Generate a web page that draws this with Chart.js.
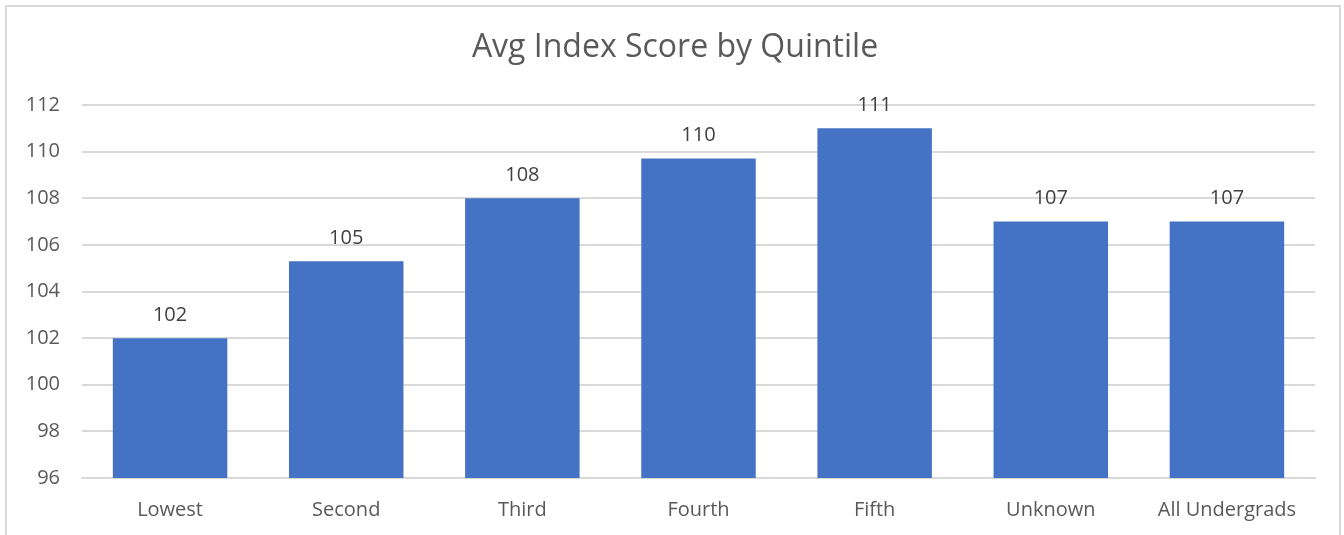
<!DOCTYPE html>
<html>
<head>
<meta charset="utf-8">
<script src="https://cdn.jsdelivr.net/npm/chart.js@4"></script>
<style>
  html, body { margin: 0; padding: 0; background: #fff; overflow: hidden; }
  #wrap { position: relative; width: 1344px; height: 535px; }
  #frame {
    position: absolute; left: 5px; top: 5px; width: 1336px; height: 560px;
    border: 2px solid #d9d9d9; box-sizing: border-box;
  }
  canvas { position: absolute; left: 0; top: 0; }
</style>
</head>
<body>
<div id="wrap">
  <div id="frame"></div>
  <canvas id="chart" width="1344" height="535"></canvas>
</div>
<script>
  // Data
  const chartTitle = 'Avg Index Score by Quintile';
  const categories = ['Lowest', 'Second', 'Third', 'Fourth', 'Fifth', 'Unknown', 'All Undergrads'];
  const scores = [102, 105.3, 108, 109.7, 111, 107, 107];
  const yTicks = [96, 98, 100, 102, 104, 106, 108, 110, 112];

  const FONT = "'Open Sans', 'Liberation Sans', sans-serif";
  const TEXT = '#595959';
  const GRID = '#d9d9d9';

  // Title centred on the whole frame, not the plot
  const frameTitle = {
    id: 'frameTitle',
    afterDraw(chart) {
      const ctx = chart.ctx;
      ctx.save();
      ctx.font = '32px ' + FONT;
      ctx.fillStyle = TEXT;
      ctx.textAlign = 'center';
      ctx.textBaseline = 'middle';
      ctx.fillText(chartTitle, 675, 48);
      ctx.restore();
    }
  };

  // Value labels above each bar
  const barLabels = {
    id: 'barLabels',
    afterDatasetsDraw(chart) {
      const ctx = chart.ctx;
      const meta = chart.getDatasetMeta(0);
      ctx.save();
      ctx.font = '20px ' + FONT;
      ctx.fillStyle = '#404040';
      ctx.textAlign = 'center';
      ctx.textBaseline = 'bottom';
      meta.data.forEach((bar, i) => {
        ctx.fillText(Math.round(scores[i]).toString(), bar.x, bar.y - 13);
      });
      ctx.restore();
    }
  };

  new Chart(document.getElementById('chart').getContext('2d'), {
    type: 'bar',
    data: {
      labels: categories,
      datasets: [{
        data: scores,
        backgroundColor: '#4472C4',
        borderWidth: 0,
        categoryPercentage: 1,
        barPercentage: 0.65,
      }],
    },
    options: {
      responsive: false,
      animation: false,
      layout: { padding: { left: 6, right: 29, top: 105, bottom: -7 } },
      plugins: {
        legend: { display: false },
        tooltip: { enabled: false },
        title: { display: false },
      },
      scales: {
        x: {
          grid: { display: false, drawTicks: false },
          border: { color: GRID, width: 2 },
          ticks: { color: TEXT, font: { family: FONT, size: 20 }, padding: 20 },
        },
        y: {
          min: 96,
          max: 112,
          afterBuildTicks: (scale) => { scale.ticks = yTicks.map(v => ({ value: v })); },
          afterFit: (scale) => { scale.width = 76; },
          grid: { color: GRID, lineWidth: 2, drawTicks: false },
          border: { display: false },
          ticks: { color: TEXT, font: { family: FONT, size: 20 }, padding: 22 },
        },
      },
    },
    plugins: [barLabels, frameTitle],
  });
</script>
</body>
</html>
